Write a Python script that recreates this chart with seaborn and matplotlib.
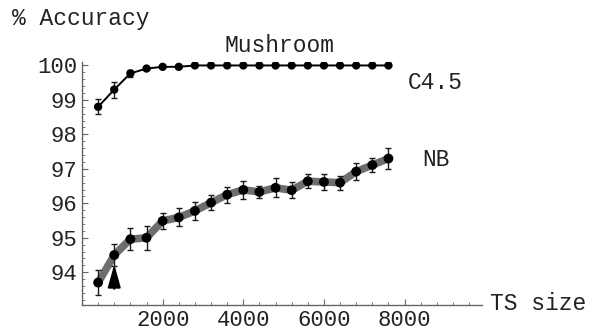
import numpy as np
import pandas as pd
import matplotlib
matplotlib.use("Agg")
import matplotlib.pyplot as plt
import seaborn as sns
from matplotlib.ticker import MultipleLocator

# ---- data ----
ts_size = [400, 800, 1200, 1600, 2000, 2400, 2800, 3200, 3600, 4000,
           4400, 4800, 5200, 5600, 6000, 6400, 6800, 7200, 7600]
c45_acc = [98.80, 99.30, 99.77, 99.91, 99.96, 99.96, 100.0, 100.0, 100.0, 100.0,
           100.0, 100.0, 100.0, 100.0, 100.0, 100.0, 100.0, 100.0, 100.0]
c45_err = [0.22, 0.23, 0.10, 0, 0, 0, 0, 0, 0, 0,
           0, 0, 0, 0, 0, 0, 0, 0, 0]
nb_acc = [93.70, 94.50, 94.96, 95.00, 95.49, 95.59, 95.78, 96.02, 96.25, 96.39,
          96.33, 96.45, 96.38, 96.64, 96.62, 96.60, 96.92, 97.11, 97.30]
nb_err = [0.36, 0.33, 0.31, 0.35, 0.24, 0.26, 0.27, 0.21, 0.23, 0.26,
          0.17, 0.28, 0.24, 0.21, 0.22, 0.20, 0.24, 0.20, 0.30]
arrow_x = 800

df = pd.DataFrame({"ts": ts_size * 2,
                   "acc": c45_acc + nb_acc,
                   "clf": ["C4.5"] * len(ts_size) + ["NB"] * len(ts_size)})

sns.set_theme(style="white")
plt.rcParams["font.family"] = ["Liberation Mono", "DejaVu Sans"]

fig = plt.figure(figsize=(5.92, 3.30), dpi=100)
ax = fig.add_axes([82 / 592, 25 / 330, 400 / 592, 243 / 330])

# NB: thick gray line
sns.lineplot(data=df[df.clf == "NB"], x="ts", y="acc", ax=ax, color="#6e6e6e",
             linewidth=5.5, zorder=2, legend=False)
ax.errorbar(ts_size, nb_acc, yerr=nb_err, fmt="none", ecolor="#1a1a1a",
            elinewidth=1.0, capsize=2.5, capthick=1.0, zorder=3)
sns.scatterplot(data=df[df.clf == "NB"], x="ts", y="acc", ax=ax, color="black",
                s=50, edgecolor="none", zorder=4, legend=False)

# C4.5: thin black line
sns.lineplot(data=df[df.clf == "C4.5"], x="ts", y="acc", ax=ax, color="black",
             linewidth=1.4, zorder=2, legend=False)
ax.errorbar(ts_size, c45_acc, yerr=c45_err, fmt="none", ecolor="#1a1a1a",
            elinewidth=1.0, capsize=2.5, capthick=1.0, zorder=3)
sns.scatterplot(data=df[df.clf == "C4.5"], x="ts", y="acc", ax=ax, color="black",
                s=36, edgecolor="none", zorder=4, legend=False)

# arrow
ax.annotate("", xy=(arrow_x, 94.23), xytext=(arrow_x, 93.52),
            arrowprops=dict(arrowstyle="-|>,head_length=1.0,head_width=0.28",
                            color="black", lw=1.5, mutation_scale=14,
                            shrinkA=0, shrinkB=0), zorder=5)

ax.set_xlim(0, 9920)
ax.set_ylim(93.05, 100.1)
ax.xaxis.set_major_locator(MultipleLocator(2000))
ax.xaxis.set_minor_locator(MultipleLocator(400))
ax.yaxis.set_major_locator(MultipleLocator(1))
ax.yaxis.set_minor_locator(MultipleLocator(0.2))
ax.set_xticks([2000, 4000, 6000, 8000])
ax.set_yticks([94, 95, 96, 97, 98, 99, 100])

for s in ["top", "right"]:
    ax.spines[s].set_visible(False)
for s in ["left", "bottom"]:
    ax.spines[s].set_color("#666666")
    ax.spines[s].set_linewidth(1.0)

ax.tick_params(which="major", direction="in", length=4, width=0.8, color="#666666",
               labelsize=16, labelcolor="#222222", pad=3.5, left=True, bottom=True)
ax.tick_params(which="minor", direction="in", length=2.2, width=0.6, color="#666666",
               left=True, bottom=True)
ax.set_xlabel("")
ax.set_ylabel("")

tk = dict(fontsize=16.5, color="#222222", family=["Liberation Mono", "DejaVu Sans"])
fig.text(12 / 592, 1 - 19 / 330, "% Accuracy", ha="left", va="center", **tk)
fig.text(224 / 592, 1 - 45 / 330, "Mushroom", ha="left", va="center", **tk)
fig.text(408 / 592, 1 - 83 / 330, "C4.5", ha="left", va="center", **tk)
fig.text(422 / 592, 1 - 160 / 330, "NB", ha="left", va="center", **tk)
fig.text(490 / 592, 1 - 304 / 330, "TS size", ha="left", va="center", **tk)

fig.savefig("out.png", dpi=100)
